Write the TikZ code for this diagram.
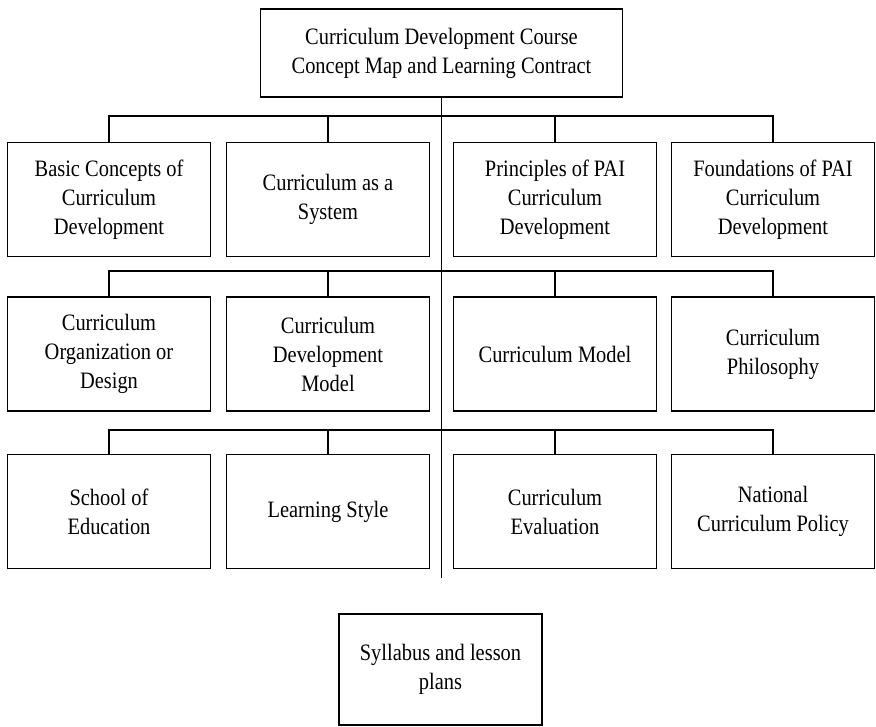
\documentclass[tikz,border=0pt]{standalone}
\usepackage{fontspec}
\setmainfont{Liberation Serif}
\newfontfamily\boxfont[FakeStretch=0.87]{Liberation Serif}

\begin{document}
\begin{tikzpicture}[x=1pt, y=1pt,
    box/.style = {draw, line width=1.6pt, align=center, inner sep=2pt,
      minimum width=203pt, minimum height=114pt,
      font=\boxfont\fontsize{23.5}{29}\selectfont},
    link/.style = {line width=1.6pt}]
  \fill[white] (0,0) rectangle (876,727);
  \useasboundingbox (0,0) rectangle (876,727);
  % Title box and the spine below it
  \node[box, minimum width=362pt, minimum height=88pt] (top) at (441.5,674)
    {Curriculum Development Course\\Concept Map and Learning Contract};
  \coordinate (spineend) at (441.5,149);
  \draw[link] (top.south) -- (spineend);
  % First row
  \node[box] (b11) at (109,527.5) {Basic Concepts of\\Curriculum\\Development};
  \node[box] (b12) at (328,527.5) {Curriculum as a\\System};
  \node[box] (b13) at (555,527.5) {Principles of PAI\\Curriculum\\Development};
  \node[box] (b14) at (773,527.5) {Foundations of PAI\\Curriculum\\Development};
  % Second row
  \node[box] (b21) at (109,373) {Curriculum\\Organization or\\Design};
  \node[box] (b22) at (328,373) {Curriculum\\Development\\Model};
  \node[box] (b23) at (555,373) {Curriculum Model};
  \node[box] (b24) at (773,373) {Curriculum\\Philosophy};
  % Third row
  \node[box] (b31) at (109,215.5) {School of\\Education};
  \node[box] (b32) at (328,215.5) {Learning Style};
  \node[box] (b33) at (555,215.5) {Curriculum\\Evaluation};
  \node[box] (b34) at (773,215.5) {National\\Curriculum Policy};
  % Bus line of each row, tied to the spine
  \foreach \row/\busy in {1/611, 2/456, 3/297} {
      \coordinate (bus\row) at (441.5,\busy);
      \draw[link] (b\row1.north) |- (bus\row) -| (b\row4.north);
      \draw[link] (b\row2.north) -- (b\row2.north |- bus\row);
      \draw[link] (b\row3.north) -- (b\row3.north |- bus\row);
    }
  % Closing box
  \node[box, minimum height=111pt] (plans) at (440.5,57.5)
    {Syllabus and lesson\\plans};
\end{tikzpicture}
\end{document}
